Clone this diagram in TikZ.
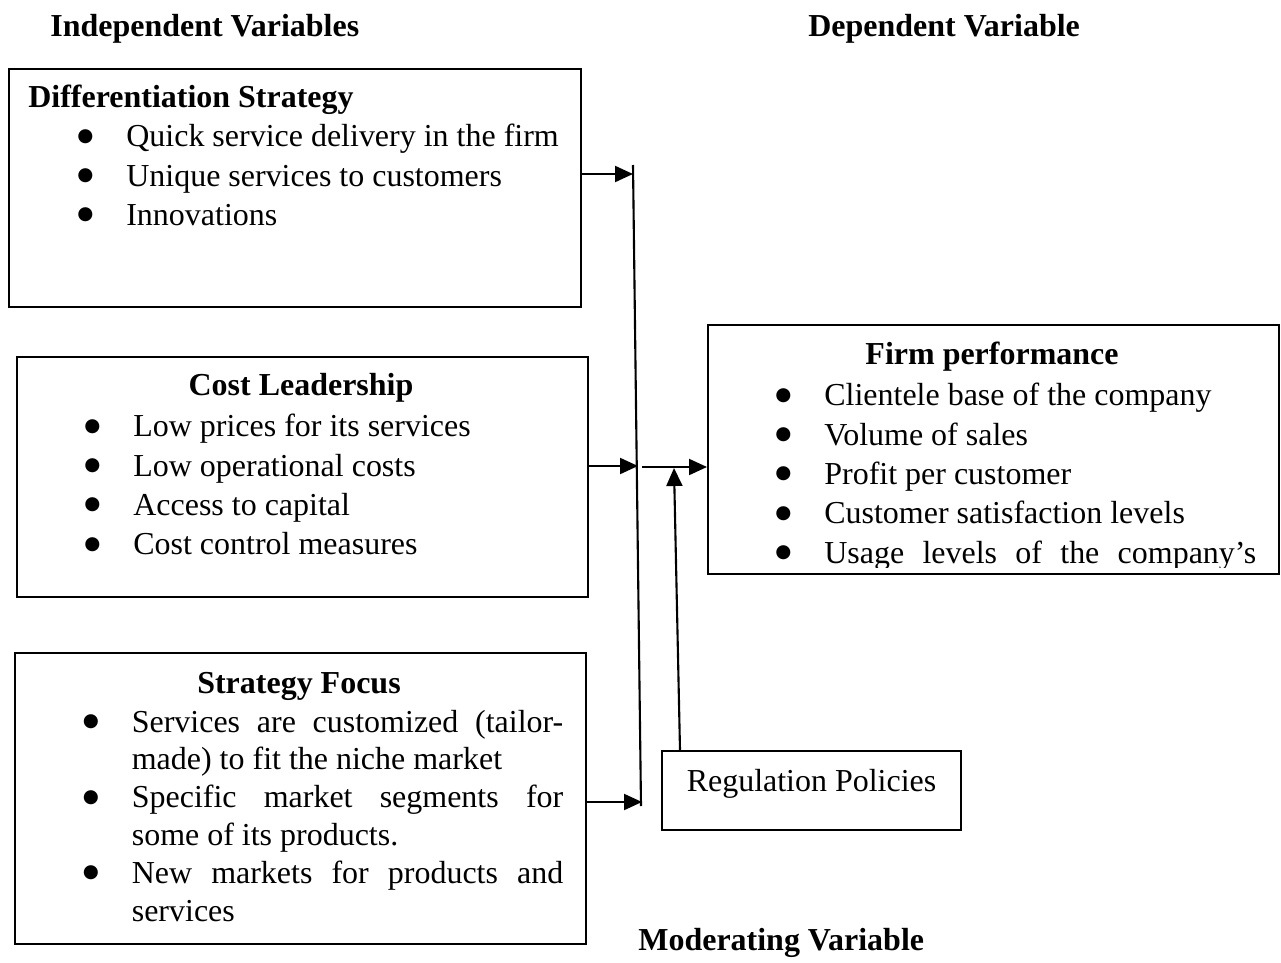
\documentclass[tikz,border=0pt]{standalone}
\usepackage{fontspec}
\setmainfont{Liberation Serif}
\newfontfamily\dotfont{DejaVu Sans}
\usepackage{enumitem}
\usetikzlibrary{positioning, arrows.meta}

\newcommand{\bigbullet}{\makebox[0pt]{\raisebox{3.2pt}{\dotfont\fontsize{10.5}{10.5}\selectfont ●}}}
\setlist[itemize]{label=\bigbullet, leftmargin=1cm, labelwidth=0.18cm, labelsep=0.82cm, itemsep=0pt, topsep=0pt, parsep=0pt, partopsep=0pt}

\begin{document}
\begin{tikzpicture}[x=0.02cm, y=-0.02cm]

\tikzstyle{box_style} = [draw, line width=1.2, inner sep=0pt, anchor=north west]
\tikzstyle{head_style} = [font=\fontsize{18.2}{22.4}\selectfont\bfseries, inner sep=0pt]
\tikzstyle{list_style} = [font=\fontsize{18.2}{22.4}\selectfont, inner sep=0pt, anchor=north west, align=justify]
\tikzstyle{arrow_style} = [line width=1.2, -{Triangle[length=0.36cm, width=0.32cm]}]

\useasboundingbox (0,0) rectangle (1281,963);

% column headings
\node[head_style, anchor=base west] (indep) at (50,37) {Independent Variables};
\node[head_style, anchor=base west] (dep) at (808,37) {Dependent Variable};
\node[head_style, anchor=base west] (moder) at (638,950) {Moderating Variable};

% boxes
\node[box_style, minimum width=11.44cm, minimum height=4.76cm] (diff) at (8,68) {};
\node[box_style, minimum width=11.42cm, minimum height=4.80cm] (cost) at (16,356) {};
\node[box_style, minimum width=11.42cm, minimum height=5.82cm] (focus) at (14,652) {};
\node[box_style, minimum width=11.42cm, minimum height=4.98cm] (perf) at (707,324) {};
\node[box_style, minimum width=5.98cm, text height=0.8cm, text depth=0.78cm,
      font=\fontsize{18.2}{22.4}\selectfont] (reg) at (661,750) {Regulation Policies};

% box titles
\node[head_style, anchor=base west] (diffhead) at (28,108) {Differentiation Strategy};
\node[head_style, anchor=base] (costhead) at (301,395) {Cost Leadership};
\node[head_style, anchor=base] (focushead) at (299,693) {Strategy Focus};
\node[head_style, anchor=base] (perfhead) at (992,364) {Firm performance};

% bullet lists
\node[list_style, text width=10.4cm] (difflist) at (76,107) {%
\begin{itemize}
\item Quick service delivery in the firm
\item Unique services to customers
\item Innovations
\end{itemize}};

\node[list_style, text width=10.4cm] (costlist) at (83,397) {%
\begin{itemize}
\item Low prices for its services
\item Low operational costs
\item Access to capital
\item Cost control measures
\end{itemize}};

\node[list_style, text width=9.63cm,
      font=\fontsize{18.2}{21.5}\selectfont] (focuslist) at (81.5,694) {%
\hyphenpenalty=10000 \tolerance=9999
\begin{itemize}
\item Services are customized (tailor-\linebreak made) to fit the niche market
\item Specific market segments for\linebreak some of its products.
\item New markets for products and\linebreak services
\end{itemize}};

\begin{scope}
\clip (707,324) rectangle (1278,567);
\node[list_style, text width=9.64cm] (perflist) at (774,366) {%
\begin{itemize}
\item Clientele base of the company
\item Volume of sales
\item Profit per customer
\item Customer satisfaction levels
\item \makebox[\linewidth][s]{Usage levels of the company's}
\end{itemize}};
\end{scope}

% junction points on the collecting line
\coordinate (bustop) at (633,165);
\coordinate (busbot) at (641,806);
\coordinate (j1) at (633,174);
\coordinate (j2) at (638,466);
\coordinate (j3) at (642,467);
\coordinate (j4) at (674,468);
\coordinate (j5) at (642,802);

\draw[line width=1.2] (bustop) -- (busbot);

\draw[arrow_style] (diff.east |- j1) -- (j1);
\draw[arrow_style] (cost.east |- j2) -- (j2);
\draw[arrow_style] (focus.east |- j5) -- (j5);
\draw[arrow_style] (j3) -- (perf.west |- j3);
\draw[arrow_style] ([xshift=0.38cm]reg.north west) -- (j4);

\end{tikzpicture}
\end{document}
